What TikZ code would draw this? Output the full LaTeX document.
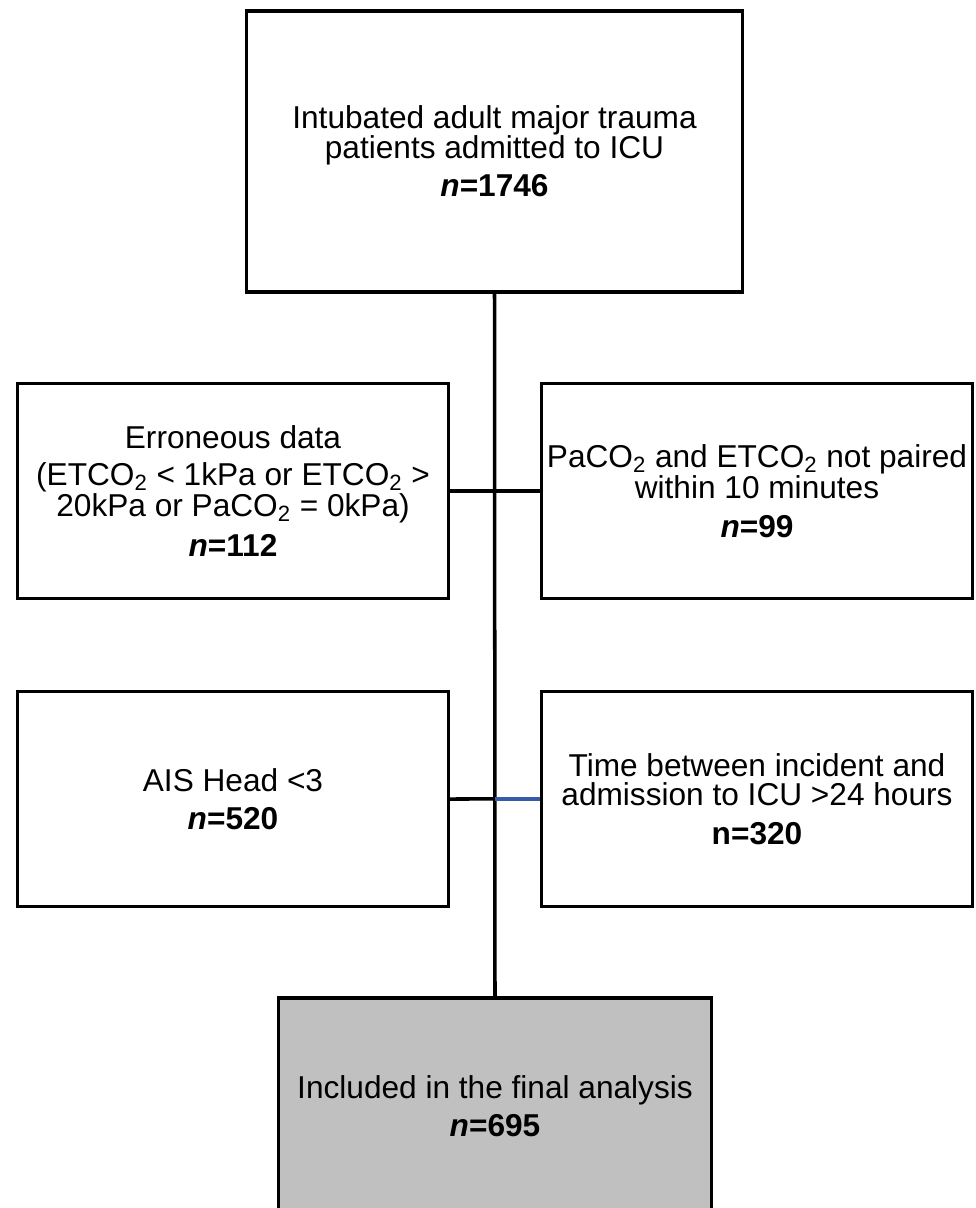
\documentclass[tikz,border=0pt]{standalone}
\usepackage{fontspec}
\setmainfont{Liberation Sans}
\usetikzlibrary{calc}

\definecolor{finalgrey}{RGB}{192,192,192}
\definecolor{linkblue}{RGB}{55,90,170}

\begin{document}
\begin{tikzpicture}[x=0.02cm, y=-0.02cm,
		box/.style={draw, line width=2pt, align=center, inner sep=0pt,
			font=\fontsize{18}{16.8}\selectfont},
		sidebox/.style={box, minimum width=8.62cm, minimum height=4.3cm},
		link/.style={line width=2pt}]
		\useasboundingbox (0,0) rectangle (975,1208);
		
		\def\nline{\\[5pt]}
		
		\node [box, minimum width=9.92cm, minimum height=5.62cm] (intubated) at (494.5,151.5)
			{Intubated adult major trauma\\patients admitted to ICU\nline\textbf{\textit{n}=1746}};
		
		\node [sidebox] (erroneous) at (233,491)
			{Erroneous data\\[4pt](ETCO\textsubscript{2} < 1kPa or ETCO\textsubscript{2} >\\[1pt]20kPa or PaCO\textsubscript{2} = 0kPa)\\[6pt]\textbf{\textit{n}=112}};
		\node [sidebox] (notpaired) at (757,491)
			{PaCO\textsubscript{2} and ETCO\textsubscript{2} not paired\\[1pt]within 10 minutes\nline\textbf{\textit{n}=99}};
		
		\node [sidebox] (aishead) at (233,799)
			{AIS Head <3\nline\textbf{\textit{n}=520}};
		\node [sidebox] (timeicu) at (757,799)
			{Time between incident and\\admission to ICU >24 hours\nline\textbf{n=320}};
		
		\node [box, minimum width=8.66cm, minimum height=4.32cm, fill=finalgrey] (final) at (495,1106)
			{Included in the final analysis\nline\textbf{\textit{n}=695}};
		
		\coordinate (spine row2) at ($(intubated.south)!(aishead.east)!(final.north)$);
		
		\draw [link] (intubated.south) -- (final.north);
		\draw [link] (erroneous.east) -- (notpaired.west);
		\draw [link] (aishead.east) -- (spine row2);
		\draw [link, linkblue] (spine row2) -- (timeicu.west |- spine row2);
	\end{tikzpicture}
\end{document}
